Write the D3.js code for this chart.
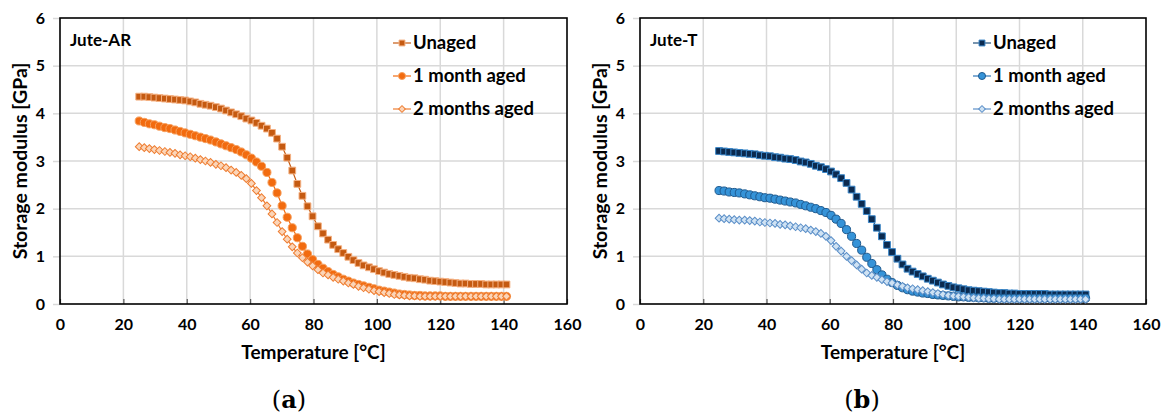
<!DOCTYPE html>
<html><head><meta charset="utf-8">
<script src="https://cdn.jsdelivr.net/npm/d3@7"></script>
<style>
body{margin:0;background:#fff}
svg{display:block}
text{font-family:Lato,"Open Sans",sans-serif;}
</style>
</head><body>
<svg id="c" width="1163" height="414"></svg>
<script>
const temperature = [25.0,26.6,28.2,29.8,31.4,33.1,34.7,36.3,37.9,39.5,41.1,42.7,44.3,45.9,47.5,49.2,50.8,52.4,54.0,55.6,57.2,58.8,60.4,62.0,63.6,65.3,66.9,68.5,70.1,71.7,73.3,74.9,76.5,78.1,79.7,81.4,83.0,84.6,86.2,87.8,89.4,91.0,92.6,94.2,95.8,97.5,99.1,100.7,102.3,103.9,105.5,107.1,108.7,110.3,111.9,113.6,115.2,116.8,118.4,120.0,121.6,123.2,124.8,126.4,128.0,129.7,131.3,132.9,134.5,136.1,137.7,139.3,140.9];

const arUnaged = [4.35,4.35,4.34,4.33,4.32,4.31,4.30,4.29,4.28,4.27,4.25,4.23,4.20,4.18,4.16,4.13,4.10,4.06,4.02,3.98,3.94,3.89,3.85,3.80,3.74,3.68,3.59,3.47,3.30,3.07,2.80,2.52,2.27,2.05,1.84,1.63,1.48,1.35,1.24,1.15,1.07,0.99,0.92,0.86,0.81,0.77,0.73,0.69,0.66,0.63,0.61,0.59,0.57,0.55,0.54,0.52,0.51,0.49,0.48,0.47,0.46,0.45,0.44,0.43,0.43,0.42,0.42,0.42,0.41,0.41,0.41,0.41,0.41];
const ar1Month = [3.84,3.81,3.78,3.76,3.73,3.70,3.68,3.65,3.62,3.59,3.56,3.53,3.50,3.47,3.44,3.40,3.36,3.32,3.28,3.24,3.19,3.13,3.06,2.98,2.89,2.76,2.55,2.33,2.06,1.82,1.60,1.39,1.21,1.05,0.93,0.83,0.75,0.68,0.62,0.57,0.52,0.48,0.44,0.41,0.38,0.35,0.32,0.29,0.27,0.25,0.23,0.21,0.20,0.19,0.18,0.18,0.17,0.17,0.17,0.17,0.16,0.16,0.16,0.16,0.16,0.16,0.16,0.16,0.16,0.16,0.16,0.16,0.16];
const ar2Months = [3.30,3.28,3.26,3.24,3.22,3.20,3.18,3.16,3.13,3.11,3.09,3.06,3.03,3.00,2.97,2.93,2.90,2.86,2.81,2.76,2.70,2.63,2.53,2.38,2.23,2.06,1.89,1.71,1.52,1.36,1.20,1.07,0.97,0.88,0.80,0.72,0.65,0.61,0.56,0.52,0.48,0.44,0.41,0.37,0.34,0.31,0.28,0.26,0.24,0.22,0.20,0.19,0.18,0.17,0.17,0.16,0.16,0.16,0.16,0.16,0.16,0.16,0.16,0.16,0.16,0.16,0.16,0.16,0.16,0.16,0.16,0.16,0.16];

const tUnaged = [3.21,3.20,3.19,3.18,3.17,3.16,3.15,3.14,3.12,3.11,3.10,3.08,3.07,3.05,3.04,3.02,2.99,2.97,2.94,2.90,2.87,2.83,2.78,2.72,2.64,2.54,2.40,2.25,2.10,1.95,1.78,1.60,1.42,1.24,1.09,0.95,0.83,0.74,0.68,0.63,0.58,0.53,0.49,0.45,0.41,0.38,0.35,0.33,0.31,0.29,0.28,0.27,0.26,0.25,0.24,0.23,0.23,0.22,0.22,0.21,0.21,0.21,0.21,0.21,0.21,0.20,0.20,0.20,0.20,0.20,0.20,0.20,0.20];
const t1Month = [2.38,2.37,2.35,2.34,2.33,2.31,2.29,2.27,2.25,2.23,2.22,2.20,2.18,2.16,2.14,2.12,2.09,2.06,2.03,2.00,1.96,1.92,1.86,1.78,1.69,1.56,1.42,1.27,1.13,0.98,0.85,0.72,0.61,0.52,0.45,0.39,0.34,0.30,0.27,0.25,0.23,0.22,0.20,0.19,0.18,0.17,0.16,0.15,0.15,0.14,0.14,0.13,0.13,0.12,0.12,0.12,0.12,0.12,0.12,0.12,0.12,0.12,0.12,0.12,0.12,0.12,0.12,0.12,0.12,0.12,0.12,0.12,0.12];
const t2Months = [1.80,1.79,1.78,1.77,1.76,1.76,1.75,1.74,1.72,1.71,1.70,1.69,1.67,1.66,1.64,1.62,1.60,1.58,1.55,1.52,1.48,1.42,1.33,1.21,1.11,1.00,0.91,0.82,0.73,0.65,0.60,0.56,0.51,0.47,0.44,0.40,0.37,0.34,0.32,0.30,0.28,0.26,0.24,0.22,0.20,0.18,0.17,0.16,0.15,0.14,0.13,0.12,0.12,0.11,0.11,0.10,0.10,0.10,0.10,0.10,0.10,0.10,0.10,0.10,0.10,0.10,0.10,0.10,0.10,0.10,0.10,0.10,0.10];

const seriesNames = ["Unaged","1 month aged","2 months aged"];
const xTicks = [0,20,40,60,80,100,120,140,160];
const yTicks = [0,1,2,3,4,5,6];
const panelTitles = ["Jute-AR","Jute-T"];
const captions = ["a","b"];

const svg = d3.select("#c");
const plotTop = 18, plotBottom = 304;

const shapes = [d3.symbolSquare, d3.symbolCircle, d3.symbolSquare];
const sizes = [46, 52, 30];
const rotations = [0, 0, 45];

function panel(cfg) {
  const x = d3.scaleLinear().domain([0,160]).range([cfg.left, cfg.right]);
  const y = d3.scaleLinear().domain([0,6]).range([plotBottom, plotTop]);
  const g = svg.append("g");

  g.append("g").selectAll("line").data(xTicks.slice(1,-1)).join("line")
    .attr("x1", d=>x(d)).attr("x2", d=>x(d)).attr("y1", plotTop).attr("y2", plotBottom)
    .attr("stroke", "#d9d9d9").attr("stroke-width", 1.5);
  g.append("g").selectAll("line").data(yTicks.slice(1,-1)).join("line")
    .attr("x1", cfg.left).attr("x2", cfg.right).attr("y1", d=>y(d)).attr("y2", d=>y(d))
    .attr("stroke", "#d9d9d9").attr("stroke-width", 1.5);

  const ax = g.append("g").attr("transform", `translate(0,${plotBottom})`)
    .call(d3.axisBottom(x).tickValues(xTicks).tickFormat(d3.format("d")).tickSize(-5).tickPadding(15));
  const ay = g.append("g").attr("transform", `translate(${cfg.left},0)`)
    .call(d3.axisLeft(y).tickValues(yTicks).tickFormat(d3.format("d")).tickSize(7).tickPadding(8));
  [ax, ay].forEach(a => {
    a.select(".domain").remove();
    a.selectAll(".tick line").attr("stroke", "#595959").attr("stroke-width", 1.2);
    a.selectAll("text").attr("font-size", 16).attr("font-weight", 700).attr("fill", "#000")
      .style("font-family", "Lato, sans-serif");
  });
  ay.selectAll(".tick line").attr("stroke", "#d9d9d9").attr("stroke-width", 1.5);

  g.append("rect").attr("x", cfg.left).attr("y", plotTop)
    .attr("width", cfg.right - cfg.left).attr("height", plotBottom - plotTop)
    .attr("fill", "none").attr("stroke", "#000").attr("stroke-width", 1.6);

  const line = d3.line().x((d,i)=>x(temperature[i])).y(d=>y(d));
  cfg.series.forEach((vals, k) => {
    const st = cfg.styles[k];
    g.append("path").datum(vals).attr("d", line)
      .attr("fill", "none").attr("stroke", st.line).attr("stroke-width", 1.2);
    g.append("g").selectAll("path").data(vals).join("path")
      .attr("transform", (d,i)=>`translate(${x(temperature[i])},${y(d)}) rotate(${rotations[k]})`)
      .attr("d", d3.symbol().type(shapes[k]).size(sizes[k]))
      .attr("fill", st.fill).attr("stroke", st.stroke).attr("stroke-width", 1);
  });

  g.append("text").attr("x", cfg.left + 10).attr("y", 46)
    .attr("font-size", 17).attr("font-weight", 700).text(cfg.title);

  const lg = g.append("g");
  seriesNames.forEach((name, k) => {
    const st = cfg.styles[k];
    const ly = [43, 76, 109][k];
    lg.append("line").attr("x1", cfg.legendX - 9).attr("x2", cfg.legendX + 9)
      .attr("y1", ly).attr("y2", ly).attr("stroke", st.line).attr("stroke-width", 1.2);
    lg.append("path").attr("transform", `translate(${cfg.legendX},${ly}) rotate(${rotations[k]})`)
      .attr("d", d3.symbol().type(shapes[k]).size(sizes[k]*0.75))
      .attr("fill", st.fill).attr("stroke", st.stroke).attr("stroke-width", 1);
    lg.append("text").attr("x", cfg.legendX + 11).attr("y", ly).attr("dy", "0.35em")
      .attr("font-size", 18.5).attr("font-weight", 700).text(name);
  });

  g.append("text").attr("x", (cfg.left + cfg.right)/2).attr("y", 359)
    .attr("text-anchor", "middle").attr("font-size", 19).attr("font-weight", 700)
    .text("Temperature [°C]");
  g.append("text").attr("transform", `translate(${cfg.left - 33},${161}) rotate(-90)`)
    .attr("text-anchor", "middle").attr("font-size", 19.5).attr("font-weight", 700)
    .text("Storage modulus [GPa]");

  const cap = g.append("text").attr("x", cfg.capX).attr("y", 408)
    .attr("text-anchor", "middle").attr("font-size", 24)
    .style("font-family", "'DejaVu Serif', 'Liberation Serif', serif");
  cap.append("tspan").text("(");
  cap.append("tspan").attr("font-weight", 700).text(cfg.caption);
  cap.append("tspan").text(")");
}

panel({
  left: 60, right: 567, title: panelTitles[0], caption: captions[0], capX: 289, legendX: 402,
  series: [arUnaged, ar1Month, ar2Months],
  styles: [
    {fill: "#c55a11", stroke: "#f4b183", line: "#c55a11"},
    {fill: "#f26b0f", stroke: "#f7a05e", line: "#f26b0f"},
    {fill: "#fbd5b8", stroke: "#ee7d31", line: "#ee7d31"}
  ]
});
panel({
  left: 640, right: 1146, title: panelTitles[1], caption: captions[1], capX: 862, legendX: 982,
  series: [tUnaged, t1Month, t2Months],
  styles: [
    {fill: "#0b2a4f", stroke: "#3a86c8", line: "#1f4e79"},
    {fill: "#3593d8", stroke: "#1f5a8f", line: "#2e75b6"},
    {fill: "#cfe2f3", stroke: "#5b8fc8", line: "#5b8fc8"}
  ]
});
</script>
</body></html>
